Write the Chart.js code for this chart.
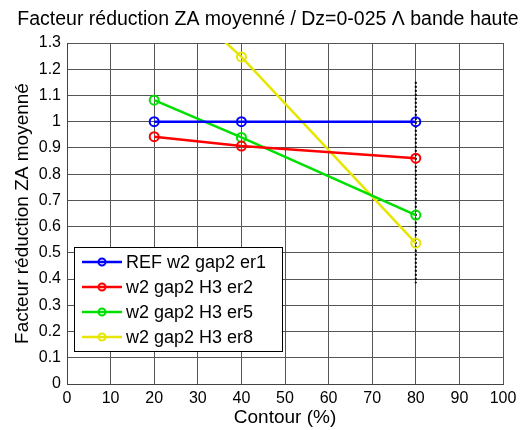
<!DOCTYPE html>
<html>
<head>
<meta charset="utf-8">
<script src="https://cdn.jsdelivr.net/npm/chart.js@4.4.1/dist/chart.umd.min.js"></script>
<style>
  body { margin: 0; background: #fff; }
  #wrap { width: 525px; height: 430px; }
</style>
</head>
<body>
<div id="wrap"><canvas id="c" width="525" height="430"></canvas></div>
<script>
// data
const contour = [20, 40, 80];
const refEr1 = [1.0, 1.0, 1.0];
const h3Er2 = [0.943, 0.907, 0.861];
const h3Er5 = [1.082, 0.940, 0.644];
const h3Er8 = [1.55, 1.247, 0.537];
const seriesNames = ['REF w2 gap2 er1', 'w2 gap2 H3 er2', 'w2 gap2 H3 er5', 'w2 gap2 H3 er8'];
const seriesColors = ['#0000ff', '#ff0000', '#00e000', '#e6e600'];
const markerX = [80, 80];
const markerY = [1.152, 0.384];

const FONT = 'Arial, "Liberation Sans", sans-serif';

const toPts = ys => contour.map((x, i) => ({ x, y: ys[i] }));

const datasets = [refEr1, h3Er2, h3Er5, h3Er8].map((ys, i) => ({
  label: seriesNames[i],
  data: toPts(ys),
  borderColor: seriesColors[i],
  backgroundColor: 'rgba(0,0,0,0)',
  borderWidth: 2.5,
  pointRadius: 4.5,
  pointBorderWidth: 2,
  pointStyle: 'circle',
  tension: 0
}));

// black dotted marker line at 80 %
datasets.push({
  label: 'marker',
  data: markerX.map((x, i) => ({ x, y: markerY[i] })),
  borderColor: '#000',
  borderWidth: 2,
  borderDash: [2, 2],
  pointRadius: 0,
  tension: 0
});

// title + legend box drawn by hand (matlab style)
const decor = {
  id: 'decor',
  afterDraw(chart) {
    const ctx = chart.ctx;
    ctx.save();
    ctx.fillStyle = '#000';
    ctx.font = '19.5px ' + FONT;
    ctx.textAlign = 'center';
    ctx.textBaseline = 'middle';
    ctx.fillText('Facteur réduction ZA moyenné / Dz=0-025 Λ bande haute', 268, 20);

    // legend
    const bx = 74, by = 247, bw = 208, bh = 104;
    ctx.fillStyle = '#fff';
    ctx.fillRect(bx, by, bw, bh);
    ctx.strokeStyle = '#000';
    ctx.lineWidth = 1;
    ctx.strokeRect(bx + 0.5, by + 0.5, bw, bh);
    ctx.font = '18px ' + FONT;
    ctx.textAlign = 'left';
    seriesNames.forEach((name, i) => {
      const y = by + 15 + i * 25;
      ctx.strokeStyle = seriesColors[i];
      ctx.lineWidth = 2.5;
      ctx.beginPath();
      ctx.moveTo(82, y);
      ctx.lineTo(122, y);
      ctx.stroke();
      ctx.lineWidth = 2;
      ctx.beginPath();
      ctx.arc(102, y, 3.5, 0, Math.PI * 2);
      ctx.stroke();
      ctx.fillStyle = '#000';
      ctx.fillText(name, 126, y + 1);
    });
    ctx.restore();
  }
};

new Chart(document.getElementById('c'), {
  type: 'line',
  data: { datasets },
  plugins: [decor],
  options: {
    responsive: false,
    animation: false,
    layout: { padding: { top: 43, right: 22, left: 0, bottom: 0 } },
    plugins: { legend: { display: false }, title: { display: false }, tooltip: { enabled: false } },
    scales: {
      x: {
        type: 'linear',
        min: 0, max: 100,
        afterFit: s => { s.height = 46; },
        ticks: { stepSize: 10, color: '#000', font: { size: 16, family: FONT }, padding: 5, maxRotation: 0 },
        grid: { color: '#555', drawTicks: false, lineWidth: 1 },
        border: { color: '#444' },
        title: { display: true, text: 'Contour (%)', color: '#000', font: { size: 19, family: FONT }, padding: { top: 0, bottom: 1 } }
      },
      y: {
        min: 0, max: 1.3,
        afterFit: s => { s.width = 67; },
        ticks: {
          stepSize: 0.1, color: '#000', font: { size: 16, family: FONT }, padding: 6,
          callback: v => String(Number(v.toFixed(1)))
        },
        grid: { color: '#555', drawTicks: false, lineWidth: 1 },
        border: { color: '#444' },
        title: { display: true, text: 'Facteur réduction ZA moyenné', color: '#000', font: { size: 19, family: FONT }, padding: { top: 11, bottom: 0 } }
      }
    }
  }
});
</script>
</body>
</html>
